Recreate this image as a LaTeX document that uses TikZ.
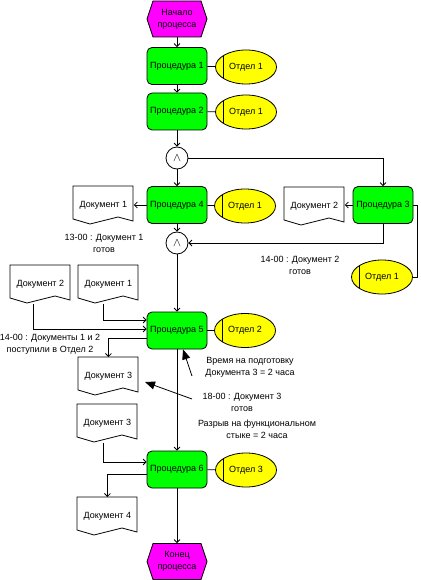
\documentclass[tikz,border=0pt]{standalone}
\usepackage{fontspec}
\setmainfont{Liberation Sans}
\usetikzlibrary{shapes.geometric,arrows.meta,calc}
\definecolor{procgreen}{RGB}{0,255,0}
\definecolor{orgyellow}{RGB}{255,255,0}
\definecolor{evmag}{RGB}{255,0,255}
\tikzset{
  every node/.style={font=\fontsize{9}{12}\selectfont},
  proc/.style={draw, fill=procgreen, rounded corners=5pt, minimum width=60pt, minimum height=37pt, inner sep=0pt},
  org/.style={draw, fill=orgyellow, ellipse, minimum width=61pt, minimum height=34pt, inner sep=0pt,
    path picture={\draw ([xshift=8pt]path picture bounding box.north west) -- ([xshift=8pt]path picture bounding box.south west);}},
  andc/.style={draw, fill=white, circle, minimum size=22pt, inner sep=0pt, font=\large},
  flow/.style={-{Straight Barb[length=3pt,width=6pt]}},
  note/.style={align=center},
  big/.style={-{Triangle[length=10pt,width=8pt]}},
  docbox/.style={minimum width=60pt, minimum height=38pt, inner sep=0pt, anchor=north west},
  evbox/.style={align=center, minimum width=60pt, minimum height=36pt, inner sep=0pt},
}
\newcommand\docsym[4]{% name, left, top, text
  \draw[fill=white] (#2,#3) -- ({#2+60},#3) -- ({#2+60},{#3+35}) -- ({#2+45},{#3+31}) -- ({#2+17},{#3+38}) -- (#2,{#3+33}) -- cycle;
  \node[docbox] (#1) at (#2,#3) {#4};
}
\newcommand\evsym[4]{% name, cx, cy, text
  \draw[fill=evmag] ({#2-30},#3) -- ({#2-24},{#3-18}) -- ({#2+24},{#3-18}) -- ({#2+30},#3) -- ({#2+24},{#3+18}) -- ({#2-24},{#3+18}) -- cycle;
  \node[evbox] (#1) at (#2,#3) {#4};
}
\begin{document}
\begin{tikzpicture}[x=1pt,y=-1pt,line width=0.8pt]
\fill[white] (0,0) rectangle (420,580);
\useasboundingbox (0,0) rectangle (420,580);

% events
\evsym{start}{177}{19}{Начало\\процесса}
\evsym{finish}{177}{561.5}{Конец\\процесса}

% procedures
\node[proc] (p1) at (177,66) {Процедура 1};
\node[proc] (p2) at (177,111.5) {Процедура 2};
\node[proc] (p4) at (177,205) {Процедура 4};
\node[proc] (p3) at (383,205) {Процедура 3};
\node[proc] (p5) at (177,330.5) {Процедура 5};
\node[proc] (p6) at (177,469.5) {Процедура 6};

% org units
\node[org] (o1) at (246,67) {Отдел 1};
\node[org] (o2) at (246,112) {Отдел 1};
\node[org] (o4) at (245,206) {Отдел 1};
\node[org] (o3) at (382,277) {Отдел 1};
\node[org] (o5) at (245,330.5) {Отдел 2};
\node[org] (o6) at (246,470) {Отдел 3};

% AND connectors
\node[andc] (a1) at (177,158) {$\wedge$};
\node[andc] (a2) at (177,243) {$\wedge$};

% documents
\docsym{docA}{73}{186}{Документ 1}
\docsym{docB}{284}{187}{Документ 2}
\docsym{docC}{10}{265}{Документ 2}
\docsym{docD}{78}{265}{Документ 1}
\docsym{docE}{78}{357}{Документ 3}
\docsym{docF}{77}{404}{Документ 3}
\docsym{docG}{77}{497}{Документ 4}

% control flow
\draw[flow] (start) -- (p1);
\draw[flow] (p1) -- (p2);
\draw[flow] (p2) -- (a1);
\draw[flow] (a1) -- (p4);
\draw[flow] (a1) -| (p3);
\draw[flow] (p4) -- (a2);
\draw[flow] (p3) |- (a2);
\draw[flow] (a2) -- (p5);
\draw[flow] (p5) -- (p6);
\draw[flow] (p6) -- (finish);

% org links
\draw (p1) -- (o1);
\draw (p2) -- (o2);
\draw (p4) -- (o4);
\draw (p5) -- (o5);
\draw (p6) -- (o6);
\draw (p3.east) -- ++(4,0) |- (o3.east);

% document flows
\draw[flow] (p4.west) -- (p4.west -| docA.east);
\draw[flow] (p3.west) -- (p3.west -| docB.east);
\draw[flow] ([xshift=-7pt]docC.south) |- ([yshift=1.5pt]p5.west);
\draw[flow] ([xshift=-5.5pt]docD.south) |- ([yshift=10.5pt]p5.west);
\draw[flow] ([yshift=-7.5pt]p5.west) -| (docE.north);
\draw[flow] ([xshift=-4pt]docF.south) |- ([yshift=7.5pt]p6.west);
\draw[flow] ([yshift=-4.5pt]p6.west) -| (docG.north);

% notes
\node[note] (n1) at (104,243) {13-00 : Документ 1\\готов};
\node[note] (n2) at (300,265.5) {14-00 : Документ 2\\готов};
\node[note] (n3) at (50,344) {14-00 : Документы 1 и 2\\поступили в Отдел 2};
\node[note] (n4) at (250,367.5) {Время на подготовку\\Документа 3 = 2 часа};
\node[note] (n5) at (242,402) {18-00 : Документ 3\\готов};
\node[note] (n6) at (257,429.5) {Разрыв на функциональном\\стыке = 2 часа};

% pointer arrows
\coordinate (t1) at (192,376);
\coordinate (t2) at (192,399);
\coordinate (t2e) at (145,382);
\draw[big] (t1) -- ([xshift=6pt]p5.south);
\draw[big] (t2) -- (t2e);
\end{tikzpicture}
\end{document}
